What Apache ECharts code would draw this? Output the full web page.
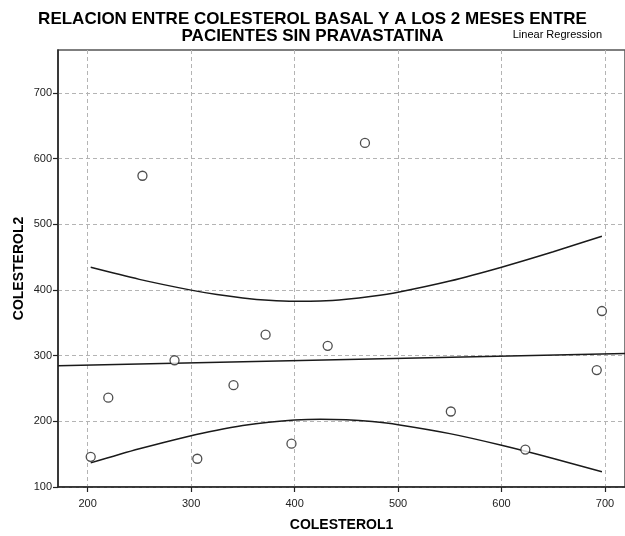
<!DOCTYPE html>
<html>
<head>
<meta charset="utf-8">
<script src="https://cdn.jsdelivr.net/npm/echarts@6/dist/echarts.min.js"></script>
<style>
  html, body { margin: 0; padding: 0; background: #fff; }
  #chart { width: 625px; height: 536px; }
</style>
</head>
<body>
<div id="chart"></div>
<script>
// Basal cholesterol (COLESTEROL1) vs cholesterol at 2 months (COLESTEROL2)
const colesterol1 = [203, 220, 253, 284, 306, 341, 372, 397, 432, 468, 551, 623, 692, 697];
const colesterol2 = [146, 236, 574, 293, 143, 255, 332, 166, 315, 624, 215, 157, 278, 368];

// Fitted regression line, across the plotted x range
const fitX = [171.4, 719.3];
const fitY = [284.6, 303.3];

// 95% confidence band of the mean
const bandX = [203, 250, 300, 325, 350, 375, 400, 425, 450, 475, 500, 550, 600, 650, 697];
const upperY = [434.5, 416.2, 399.8, 393.1, 387.9, 384.3, 382.7, 383.1, 385.8, 390.4, 396.7, 413.7, 434.8, 458.3, 481.9];
const lowerY = [136.7, 158.2, 178.2, 186.5, 193.5, 198.7, 202.1, 203.3, 202.4, 199.6, 194.9, 181.3, 163.6, 143.5, 123.1];

// Tick labels
const xTicks = [200, 300, 400, 500, 600, 700];
const yTicks = [100, 200, 300, 400, 500, 600, 700];

const zip = (xs, ys) => xs.map((x, i) => [x, ys[i]]);
const FONT = 'Liberation Sans, Arial, sans-serif';

const chart = echarts.init(document.getElementById('chart'), null, { renderer: 'canvas' });

const curveStyle = { color: '#1a1a1a', width: 1.5 };

chart.setOption({
  animation: false,
  backgroundColor: '#fff',
  title: {
    text: 'RELACION ENTRE COLESTEROL BASAL Y A LOS 2 MESES ENTRE\nPACIENTES SIN PRAVASTATINA',
    left: 'center',
    top: 6,
    textStyle: { fontFamily: FONT, fontSize: 17, fontWeight: 'bold', color: '#000', lineHeight: 17 }
  },
  graphic: [{
    type: 'text',
    right: 23,
    top: 29,
    style: { text: 'Linear Regression', fontFamily: FONT, fontSize: 11, fill: '#000' }
  }],
  grid: {
    left: 58, right: 0, top: 50, bottom: 49,
    outerBoundsMode: 'none',
    containLabel: false,
    show: true, borderColor: '#555', borderWidth: 1.5, backgroundColor: 'transparent'
  },
  xAxis: {
    type: 'value',
    min: 171.4, max: 719.3,
    name: 'COLESTEROL1',
    nameLocation: 'middle',
    nameGap: 31,
    nameMoveOverlap: false,
    nameTextStyle: { fontFamily: FONT, fontSize: 14, fontWeight: 'bold', color: '#000' },
    axisLine: { show: true, onZero: false, lineStyle: { color: '#222', width: 1.5 } },
    axisTick: { show: true, length: 5, lineStyle: { color: '#222', width: 1.2 }, customValues: xTicks },
    axisLabel: { fontFamily: FONT, fontSize: 11, color: '#222', margin: 11, customValues: xTicks },
    splitLine: { show: true, lineStyle: { color: '#b4b4b4', type: [4, 3], width: 1 } }
  },
  yAxis: {
    type: 'value',
    min: 100, max: 765.5,
    name: 'COLESTEROL2',
    nameLocation: 'middle',
    nameGap: 32,
    nameMoveOverlap: false,
    nameRotate: 90,
    nameTextStyle: { fontFamily: FONT, fontSize: 14, fontWeight: 'bold', color: '#000' },
    axisLine: { show: true, onZero: false, lineStyle: { color: '#222', width: 1.5 } },
    axisTick: { show: true, length: 5, lineStyle: { color: '#222', width: 1.2 }, customValues: yTicks },
    axisLabel: { fontFamily: FONT, fontSize: 11, color: '#222', margin: 6, customValues: yTicks },
    splitLine: { show: true, lineStyle: { color: '#b4b4b4', type: [4, 3], width: 1 } }
  },
  series: [
    {
      type: 'line',
      data: zip(bandX, upperY),
      smooth: 0.3,
      symbol: 'none',
      lineStyle: curveStyle,
      z: 3
    },
    {
      type: 'line',
      data: zip(bandX, lowerY),
      smooth: 0.3,
      symbol: 'none',
      lineStyle: curveStyle,
      z: 3
    },
    {
      type: 'line',
      data: zip(fitX, fitY),
      symbol: 'none',
      lineStyle: curveStyle,
      z: 3
    },
    {
      type: 'scatter',
      data: zip(colesterol1, colesterol2),
      symbol: 'circle',
      symbolSize: 9,
      itemStyle: { color: '#fff', borderColor: '#222', borderWidth: 1.3 },
      z: 4
    }
  ]
});
</script>
</body>
</html>
